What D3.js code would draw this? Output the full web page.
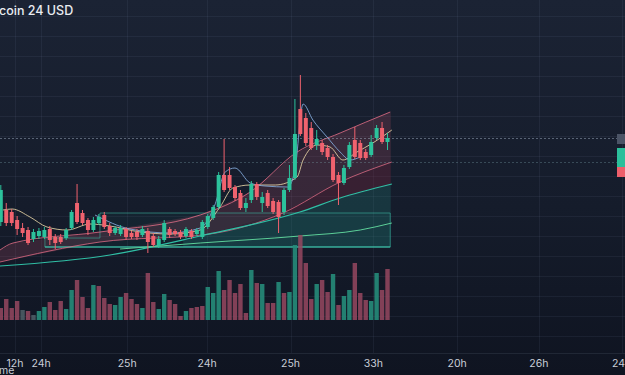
<!DOCTYPE html>
<html><head><meta charset="utf-8">
<script src="https://cdn.jsdelivr.net/npm/d3@7"></script>
<style>html,body{margin:0;padding:0;background:#131a28;overflow:hidden}svg{display:block}</style>
</head><body><svg id="c" width="625" height="375"></svg>
<script>
// ---- candle data (price units) ----
const opens  = [178,190,188,180,172,170,161,164,163,171,163,163,162,172,197,187,180,170,177,185,174,167,166,171,167,168,165,169,164,155,160,171,169,168,164,169,166,163,173,182,193,225,225,213,207,192,200,216,197,207,199,198,188,210,222,291,282,272,255,257,252,243,225,217,233,260,257,248,245,262,272,258];
const closes = [210,177,177,171,167,157,168,169,170,160,157,158,170,188,178,177,170,180,183,173,167,172,172,163,163,163,171,158,155,161,177,165,166,163,171,163,170,178,184,193,225,210,212,202,192,197,216,203,203,194,188,183,210,222,266,266,257,252,261,248,243,220,217,232,255,243,242,242,258,272,258,262];
const highs  = [215,197,191,184,177,173,171,172,173,174,166,166,172,190,216,190,182,183,186,188,177,174,175,173,169,171,174,172,167,164,180,173,171,170,173,171,172,180,186,195,228,261,233,215,210,202,219,218,208,210,202,200,212,235,301,325,287,278,270,260,255,246,228,235,258,273,260,251,265,275,278,267];
const lows   = [174,174,174,165,163,155,158,161,161,155,151,156,160,170,176,175,165,168,175,171,164,165,164,160,161,160,163,147,153,152,158,162,164,161,162,161,164,161,171,180,191,208,210,199,190,188,197,200,188,192,186,167,185,208,220,264,254,250,250,245,240,218,195,215,231,241,240,240,243,260,256,250];

// ---- volume ----
const volumes = [12,21,12,19,10,9,5,9,13,18,10,19,11,30,40,23,12,35,34,22,16,15,23,27,21,16,12,47,18,11,26,20,16,4,9,12,13,14,33,27,49,30,40,27,36,7,50,37,36,17,17,38,27,28,75,85,57,21,36,40,28,46,15,24,30,57,27,20,19,47,30,51];
const volumeDir = ["r","r","r","r","n","r","n","g","g","r","r","r","g","g","r","r","r","g","r","r","r","g","g","r","r",
  "r","g","r","r","g","g","r","r","r","g","r","r","r","g","g","g","r","r","r","r","r","g","r","g","r","r","g","r","g","g",
  "r","r","r","g","r","r","g","r","g","g","r","r","r","g","g","r","r"];

// ---- overlay lines: [index, price] ----
const bandUpper = [[-0.15,150],[2.24,157],[18.2,168],[36.6,185],[45.8,208],[54.4,248],[62.3,267],[71.5,288]];
const bandLower = [[-0.15,138],[18.2,158],[38.4,166],[51.8,187],[62.3,218],[71.8,238]];
const tealLine  = [[-0.15,134],[20.05,145],[36.6,164],[54.9,188],[62.3,202],[71.8,216]];
const greenLine = [[21.9,151],[36.6,157],[54.9,164],[66,170],[71.8,177]];
const maBlue = [[17.3,185],[23.7,171],[31.1,167],[36.6,172],[39.3,195],[41.2,228],[43.0,232],[45.8,217],[48.5,214],[52.7,213],[54.0,230],[55.5,296],[57.3,280],[59.9,263],[62.3,248],[64.1,240],[66.0,243]];
const maCream = [[0.4,190],[2.06,191],[5.36,183],[8.48,173],[12.2,170],[16.4,176],[20.05,174],[25.6,168],[31.1,166],[36.6,170],[40.25,193],[42.6,212],[45.8,215],[50.4,215],[54.4,223],[55.5,240],[58.1,255],[60.45,253],[62.8,240],[65.4,248],[68.3,257],[71.8,270]];
const boxRange = {x0:8.1, xStep:18.2, x1:71.5, bottom:153, top:187, topLeft:162};

// ---- time axis ----
const tickPos    = [2.6, 7.4, 23.2, 37.9, 53.2, 68.4, 83.8, 98.8, 114];
const tickLabels = ["12h","24h","25h","24h","25h","33h","20h","26h","24h"];
const priceLines = [262, 238];

const W = 625, H = 375;
const svg = d3.select("#c");
const defs = svg.append("defs");
const bg = defs.append("linearGradient").attr("id","bg").attr("x1",0).attr("y1",0).attr("x2",0).attr("y2",1);
bg.append("stop").attr("offset","0%").attr("stop-color","#1b2334");
bg.append("stop").attr("offset","55%").attr("stop-color","#151c2b");
bg.append("stop").attr("offset","100%").attr("stop-color","#0f1421");
svg.append("rect").attr("width",W).attr("height",H).attr("fill","url(#bg)");

const x = d3.scaleLinear().domain([0,71]).range([0.8,387.5]);
const y = d3.scaleLinear().domain([100,400]).range([300,0]);
const yv = d3.scaleLinear().domain([0,85]).range([320,235]);

// grid
const grid = svg.append("g");
const hGrid = d3.range(16, 340, 20);
grid.selectAll("line.h").data(hGrid).join("line")
  .attr("x1",0).attr("x2",W).attr("y1",d=>d+0.5).attr("y2",d=>d+0.5)
  .attr("stroke","rgba(150,170,200,0.08)");
grid.append("line").attr("x1",0).attr("x2",W).attr("y1",353.5).attr("y2",353.5).attr("stroke","rgba(150,170,200,0.12)");
grid.selectAll("line.v").data(tickPos).join("line")
  .attr("x1",d=>Math.round(x(d))+0.5).attr("x2",d=>Math.round(x(d))+0.5).attr("y1",0).attr("y2",353)
  .attr("stroke","rgba(150,170,200,0.08)");

// interpolation helper for fills
function interp(pts, t){
  if (t<=pts[0][0]) return pts[0][1];
  for (let k=1;k<pts.length;k++){ if (t<=pts[k][0]){ const a=pts[k-1],b=pts[k]; return a[1]+(b[1]-a[1])*(t-a[0])/(b[0]-a[0]); } }
  return pts[pts.length-1][1];
}
function samples(a,b,step){ const s=[]; for(let t=a;t<b;t+=step) s.push(t); s.push(b); return s; }

const curve = d3.curveMonotoneX;
const line = d3.line().x(d=>x(d[0])).y(d=>y(d[1])).curve(curve);

// pink band fill
const areaG = svg.append("g");
const bandT = samples(-0.2, 71.6, 0.25);
areaG.append("path").datum(bandT)
  .attr("d", d3.area().x(t=>x(t)).y0(t=>y(interp(bandLower,t))).y1(t=>y(interp(bandUpper,t))))
  .attr("fill","rgba(196,86,112,0.20)");
// maroon between lower band and teal line (right part)
const mT = samples(38.0, 71.6, 0.25);
areaG.append("path").datum(mT)
  .attr("d", d3.area().x(t=>x(t)).y0(t=>y(Math.min(interp(bandLower,t),interp(tealLine,t)))).y1(t=>y(interp(bandLower,t))))
  .attr("fill","rgba(120,40,62,0.35)");
// teal fill under teal line down to box bottom
const tT = samples(33.5, 71.6, 0.25);
areaG.append("path").datum(tT)
  .attr("d", d3.area().x(t=>x(t)).y0(()=>y(boxRange.bottom)).y1(t=>y(Math.max(interp(tealLine,t),boxRange.bottom))))
  .attr("fill","rgba(38,150,135,0.22)");
// box
const boxPts = [[boxRange.x0,boxRange.topLeft],[boxRange.xStep,boxRange.topLeft],[boxRange.xStep,boxRange.top],[boxRange.x1,boxRange.top],[boxRange.x1,boxRange.bottom],[boxRange.x0,boxRange.bottom]];
areaG.append("path").datum(boxPts)
  .attr("d", d3.line().x(d=>x(d[0])).y(d=>y(d[1]))(boxPts)+"Z")
  .attr("fill","rgba(40,170,150,0.06)").attr("stroke","rgba(62,190,168,0.55)").attr("stroke-width",1);
areaG.append("line").attr("x1",x(boxRange.x0)).attr("x2",x(boxRange.x1)).attr("y1",y(boxRange.bottom)).attr("y2",y(boxRange.bottom))
  .attr("stroke","#3fc8ae").attr("stroke-width",1.1);

// lines
const lg = svg.append("g").attr("fill","none");
lg.append("path").attr("d",line(bandUpper)).attr("stroke","rgba(228,110,135,0.8)").attr("stroke-width",1);
lg.append("path").attr("d",line(bandLower)).attr("stroke","rgba(228,110,135,0.75)").attr("stroke-width",1);
lg.append("path").attr("d",line(tealLine)).attr("stroke","#30bfa5").attr("stroke-width",1.2);
lg.append("path").attr("d",line(greenLine)).attr("stroke","#5ccf98").attr("stroke-width",1);

// price lines
svg.selectAll("line.pl").data(priceLines).join("line")
  .attr("x1",0).attr("x2",618).attr("y1",d=>Math.round(y(d))+0.5).attr("y2",d=>Math.round(y(d))+0.5)
  .attr("stroke",(d,i)=>i===0?"rgba(170,185,205,0.45)":"rgba(120,160,170,0.35)")
  .attr("stroke-dasharray","2,2");

// volume bars
const volColor = {r:"rgba(150,72,96,0.85)", g:"rgba(38,140,122,0.9)", n:"rgba(80,96,104,0.85)"};
svg.append("g").selectAll("rect").data(volumes).join("rect")
  .attr("x",(d,i)=>x(i)-2.2).attr("width",4.4)
  .attr("y",d=>yv(d)).attr("height",d=>yv(0)-yv(d))
  .attr("fill",(d,i)=>volColor[volumeDir[i]]);

// MA lines
lg.append("path").attr("d",line(maCream)).attr("stroke","rgba(230,212,165,0.85)").attr("stroke-width",1);
lg.append("path").attr("d",line(maBlue)).attr("stroke","rgba(128,166,214,0.9)").attr("stroke-width",1);

// candles
const up = "#2cc29c", dn = "#f0626e";
const cg = svg.append("g");
const idx = d3.range(opens.length);
cg.selectAll("line").data(idx).join("line")
  .attr("x1",i=>x(i)).attr("x2",i=>x(i)).attr("y1",i=>y(highs[i])).attr("y2",i=>y(lows[i]))
  .attr("stroke",i=>closes[i]>=opens[i]?up:dn).attr("stroke-width",1);
cg.selectAll("rect").data(idx).join("rect")
  .attr("x",i=>x(i)-2).attr("width",4)
  .attr("y",i=>y(Math.max(opens[i],closes[i])))
  .attr("height",i=>Math.max(1,Math.abs(y(opens[i])-y(closes[i]))))
  .attr("fill",i=>closes[i]>=opens[i]?up:dn);

// right edge price tags
svg.append("rect").attr("x",617).attr("y",134).attr("width",8).attr("height",10).attr("fill","#4b5466");
svg.append("rect").attr("x",617).attr("y",148).attr("width",8).attr("height",19).attr("fill","#2bbf9b");
svg.append("rect").attr("x",617).attr("y",167).attr("width",8).attr("height",10).attr("fill","#ee5f6b");

// axis labels
svg.append("g").selectAll("text").data(tickPos).join("text")
  .attr("x",d=>x(d)).attr("y",367).attr("text-anchor","middle")
  .attr("font-family","Inter, Roboto, sans-serif").attr("font-size",10.5).attr("fill","#c9ced8")
  .text((d,i)=>tickLabels[i]);
svg.append("text").attr("x",-1).attr("y",374).attr("font-family","Inter, Roboto, sans-serif")
  .attr("font-size",10.5).attr("fill","#c9ced8").text("me");

// title
svg.append("text").attr("x",-1).attr("y",15).attr("font-family","Inter, Roboto, sans-serif")
  .attr("font-size",12.5).attr("font-weight",500).attr("fill","#e9ecf1").text("coin 24 USD");
</script></body></html>
